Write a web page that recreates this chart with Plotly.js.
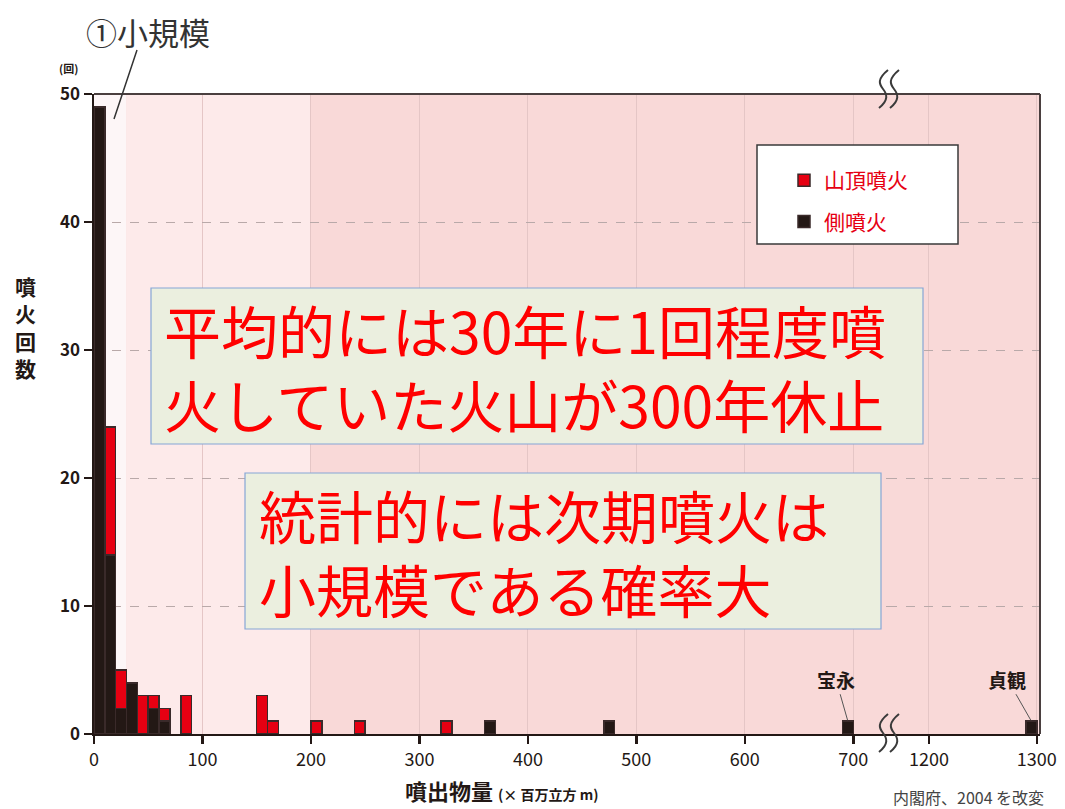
<!DOCTYPE html>
<html>
<head>
<meta charset="utf-8">
<script src="https://cdn.plot.ly/plotly-3.0.1.min.js"></script>
<style>
  html, body { margin: 0; padding: 0; background: #ffffff; }
  #chart { width: 1065px; height: 809px; }
</style>
</head>
<body>
<div id="chart"></div>
<script>
// ---- data ----
const binStart      = [0, 10, 20, 30, 40, 50, 60, 80, 150, 160, 200, 240, 320, 360, 470, 690, 1290];
const summitCounts  = [0, 10, 3, 0, 3, 1, 1, 3, 3, 1, 1, 1, 1, 0, 0, 0, 0];   // 山頂噴火
const flankCounts   = [49, 14, 2, 4, 0, 2, 1, 0, 0, 0, 0, 0, 0, 1, 1, 1, 1];  // 側噴火
const binWidth = 10;
const leftTicks  = [0, 100, 200, 300, 400, 500, 600, 700];
const rightTicks = [1200, 1300];
const yTicks = [0, 10, 20, 30, 40, 50];
const seriesNames = ['山頂噴火', '側噴火'];

// ---- layout constants ----
const W = 1065, H = 809;
const M = {l: 94, r: 25, t: 94, b: 75};
const plotW = W - M.l - M.r, plotH = H - M.t - M.b;
const breakPx = 888;
const split = (breakPx - M.l) / plotW;
const leftRange = [0, 732];
const rightRange = [1162, 1303];
const X = px => (px - M.l) / plotW;
const Y = py => (H - M.b - py) / plotH;

const RED = '#e60012', BLACK = '#231815', EDGE = '#3a2a2a';
const FONT = '"Noto Sans CJK JP", "Noto Sans", sans-serif';

function pick(counts, side) {
  const xs = [], ys = [];
  binStart.forEach((b, i) => {
    const isRight = b >= 1000;
    if (counts[i] > 0 && (side === 'r') === isRight) { xs.push(b); ys.push(counts[i]); }
  });
  return {xs, ys};
}
function barTrace(counts, side, name, color, group, rank, show) {
  const d = pick(counts, side);
  return {
    type: 'bar', x: d.xs, y: d.ys, name: name,
    xaxis: side === 'r' ? 'x2' : 'x', yaxis: 'y',
    width: binWidth, offset: 0,
    legendgroup: group, legendrank: rank, showlegend: show,
    marker: {color: color, line: {color: EDGE, width: 1.5}},
    hoverinfo: 'x+y+name'
  };
}
// black first so it stacks at the bottom; red stacked on top
const traces = [
  barTrace(flankCounts, 'l', seriesNames[1], BLACK, 'b', 2, true),
  barTrace(flankCounts, 'r', seriesNames[1], BLACK, 'b', 2, false),
  barTrace(summitCounts, 'l', seriesNames[0], RED, 'a', 1, true),
  barTrace(summitCounts, 'r', seriesNames[0], RED, 'a', 1, false)
];

function squiggle(cx, y0) {
  const one = x => `M${X(x+5)},${Y(y0)} C${X(x-6)},${Y(y0+9)} ${X(x-4)},${Y(y0+14)} ${X(x)},${Y(y0+19)} C${X(x+4)},${Y(y0+24)} ${X(x+6)},${Y(y0+30)} ${X(x-4)},${Y(y0+38)}`;
  return [
    {type: 'path', xref: 'paper', yref: 'paper', path: one(cx - 5), line: {color: '#3a3a3a', width: 2}, layer: 'above'},
    {type: 'path', xref: 'paper', yref: 'paper', path: one(cx + 6), line: {color: '#3a3a3a', width: 2}, layer: 'above'}
  ];
}

const axisCommon = {
  showline: true, linecolor: BLACK, linewidth: 2,
  ticks: 'outside', ticklen: 8, tickwidth: 2.5, tickcolor: BLACK,
  tickfont: {family: FONT, size: 18, color: BLACK},
  showgrid: true, gridcolor: '#e5c6c6', gridwidth: 1,
  zeroline: false, fixedrange: true
};

const layout = {
  width: W, height: H,
  margin: M,
  paper_bgcolor: '#ffffff', plot_bgcolor: 'rgba(0,0,0,0)',
  barmode: 'stack', bargap: 0,
  showlegend: true,
  legend: {
    x: X(784), y: Y(160), xanchor: 'left', yanchor: 'top',
    bgcolor: 'rgba(0,0,0,0)', borderwidth: 0,
    traceorder: 'grouped', tracegroupgap: 11,
    font: {family: FONT, size: 21, color: RED}
  },
  xaxis: Object.assign({}, axisCommon, {
    domain: [0, split], range: leftRange, tickvals: leftTicks, anchor: 'y'
  }),
  xaxis2: Object.assign({}, axisCommon, {
    domain: [split, 1], range: rightRange, tickvals: rightTicks, anchor: 'y'
  }),
  yaxis: Object.assign({}, axisCommon, {
    range: [0, 50], tickvals: yTicks, ticklen: 8,
    tickfont: {family: FONT, size: 17, color: BLACK, weight: 'bold'},
    gridcolor: '#b9a9a9', griddash: 'dash', linewidth: 2.5
  }),
  shapes: [
    {type: 'rect', xref: 'paper', yref: 'paper', x0: 0, x1: 1, y0: 0, y1: 1, fillcolor: '#f9d9d8', line: {width: 0}, layer: 'below'},
    {type: 'rect', xref: 'x', yref: 'paper', x0: 0, x1: 30, y0: 0, y1: 1, fillcolor: '#fdf6f7', line: {width: 0}, layer: 'below'},
    {type: 'rect', xref: 'x', yref: 'paper', x0: 30, x1: 200, y0: 0, y1: 1, fillcolor: '#fdeaea', line: {width: 0}, layer: 'below'},
    // frame top & right
    {type: 'line', xref: 'paper', yref: 'paper', x0: 0, x1: 1, y0: 1, y1: 1, line: {color: '#4a3f3f', width: 2}},
    {type: 'line', xref: 'paper', yref: 'paper', x0: 1, x1: 1, y0: 0, y1: 1, line: {color: '#4a3f3f', width: 2}},
    // legend box
    {type: 'rect', xref: 'paper', yref: 'paper', x0: X(757), x1: X(958), y0: Y(244), y1: Y(145), fillcolor: '#ffffff', line: {color: '#3a3a3a', width: 1.5}, layer: 'above'},
    // text boxes
    {type: 'rect', xref: 'paper', yref: 'paper', x0: X(151), x1: X(923), y0: Y(444), y1: Y(288), fillcolor: '#ebefdf', line: {color: '#86a6d6', width: 1.2}, layer: 'above'},
    {type: 'rect', xref: 'paper', yref: 'paper', x0: X(245), x1: X(881), y0: Y(629), y1: Y(473), fillcolor: '#ebefdf', line: {color: '#86a6d6', width: 1.2}, layer: 'above'},
    // pointer for ①小規模
    {type: 'line', xref: 'paper', yref: 'paper', x0: X(137), y0: Y(50), x1: X(114), y1: Y(119), line: {color: '#333333', width: 1.5}, layer: 'above'}
  ].concat(squiggle(888, 70), squiggle(888, 714)),
  annotations: [
    {xref: 'paper', yref: 'paper', x: X(84), y: Y(32), xanchor: 'left', yanchor: 'middle', showarrow: false,
     text: '①小規模', font: {family: FONT, size: 31, color: '#333333'}},
    {xref: 'paper', yref: 'paper', x: X(68), y: Y(68), xanchor: 'center', yanchor: 'middle', showarrow: false,
     text: '(回)', font: {family: FONT, size: 11, color: BLACK, weight: 'bold'}},
    {xref: 'paper', yref: 'paper', x: X(25), y: Y(327), xanchor: 'center', yanchor: 'middle', showarrow: false,
     text: '噴<br>火<br>回<br>数', font: {family: FONT, size: 21, color: BLACK, weight: 'bold'}},
    {xref: 'paper', yref: 'paper', x: X(403), y: Y(790), xanchor: 'left', yanchor: 'middle', showarrow: false,
     text: '噴出物量 <span style="font-size:14px">(× 百万立方 m)</span>', font: {family: FONT, size: 22, color: BLACK, weight: 'bold'}},
    {xref: 'paper', yref: 'paper', x: X(1046), y: Y(797), xanchor: 'right', yanchor: 'middle', showarrow: false,
     text: '内閣府、2004 を改変', font: {family: FONT, size: 16, color: '#444444'}},
    {xref: 'x', yref: 'y', x: 695, y: 1, ax: -12, ay: -42, showarrow: true, arrowhead: 0, arrowwidth: 1, arrowcolor: '#555555', standoff: 1,
     text: '宝永', font: {family: FONT, size: 19, color: BLACK, weight: 'bold'}},
    {xref: 'x2', yref: 'y', x: 1295, y: 1, ax: -24, ay: -42, showarrow: true, arrowhead: 0, arrowwidth: 1, arrowcolor: '#555555', standoff: 1,
     text: '貞観', font: {family: FONT, size: 19, color: BLACK, weight: 'bold'}},
    // text box contents
    {xref: 'paper', yref: 'paper', x: X(162), y: Y(366), xanchor: 'left', yanchor: 'middle', align: 'left', showarrow: false,
     text: '平均的には30年に1回程度噴<br>火していた火山が300年休止', font: {family: FONT, size: 57, color: '#ff0000'}},
    {xref: 'paper', yref: 'paper', x: X(257), y: Y(551), xanchor: 'left', yanchor: 'middle', align: 'left', showarrow: false,
     text: '統計的には次期噴火は<br>小規模である確率大', font: {family: FONT, size: 57, color: '#ff0000'}}
  ]
};

Plotly.newPlot('chart', traces, layout, {staticPlot: true, displayModeBar: false});
</script>
</body>
</html>
